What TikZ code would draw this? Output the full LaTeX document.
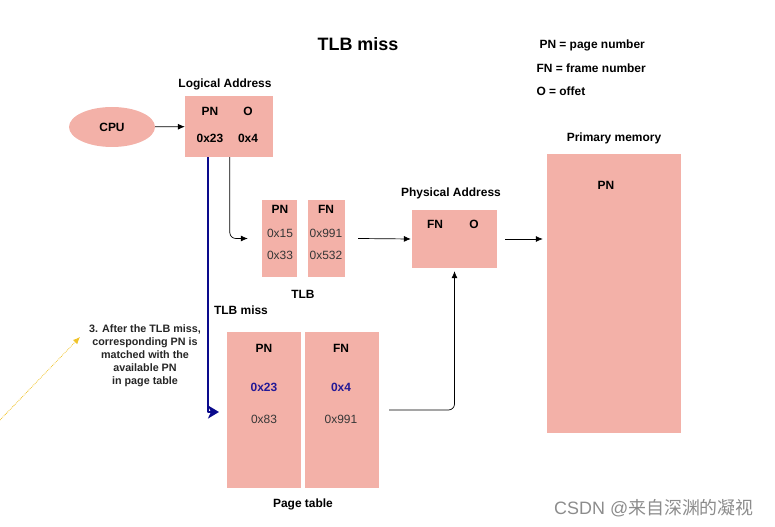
\documentclass[tikz,border=0pt]{standalone}
\usepackage{fontspec}
\setmainfont{Liberation Sans}
\newfontfamily\cjkfont{Noto Sans CJK SC}
\usepackage{tikz}
\usetikzlibrary{positioning,arrows.meta,shapes.geometric}

\definecolor{boxfill}{RGB}{243,177,168}
\definecolor{missblue}{RGB}{10,10,140}
\definecolor{hitblue}{RGB}{35,25,150}
\definecolor{valgray}{RGB}{55,55,55}
\definecolor{notegold}{RGB}{240,195,40}

\tikzset{
  membox/.style={draw=none,fill=boxfill,inner sep=0pt},
  hdr/.style={font=\fontsize{12}{14}\selectfont\bfseries},
  val/.style={font=\fontsize{12}{14}\selectfont,text=valgray},
  hit/.style={font=\fontsize{12}{14}\selectfont\bfseries,text=hitblue},
  link/.style={black,-{Latex[length=7bp,width=6bp]},line width=0.7bp},
}

\begin{document}
\begin{tikzpicture}[>=latex,line join=bevel,]
\useasboundingbox (0bp,0bp) rectangle (775bp,527bp);
%%
\node (title) at (358bp,483bp) [font=\fontsize{18}{20}\selectfont\bfseries] {TLB miss};
  \node (keypn) at (536bp,482bp) [hdr,anchor=west] {PN = page number};
  \node (keyfn) at (533bp,459bp) [hdr,anchor=west] {FN = frame number};
  \node (keyo) at (533bp,436bp) [hdr,anchor=west] {O = offet};
%
  \node (cpu) at (112bp,400bp) [ellipse,membox,minimum width=86bp,minimum height=40bp,hdr] {CPU};
  \node (logical) at (229bp,400.5bp) [membox,minimum width=88bp,minimum height=61bp] {};
  \node (logicallbl) at (225bp,443bp) [hdr] {Logical Address};
  \node (lapn) at (210bp,416bp) [hdr] {PN};
  \node (lao) at (248bp,416bp) [hdr] {O};
  \node (lapnval) at (210bp,389bp) [hdr] {0x23};
  \node (laoval) at (248bp,389bp) [hdr] {0x4};
%
  \node (tlbpn) at (279.5bp,288.5bp) [membox,minimum width=35bp,minimum height=77bp] {};
  \node (tlbfn) at (326.5bp,288.5bp) [membox,minimum width=37bp,minimum height=77bp] {};
  \node (tlbpnhdr) at (280bp,318bp) [hdr] {PN};
  \node (tlbpna) at (280bp,294bp) [val] {0x15};
  \node (tlbpnb) at (280bp,272bp) [val] {0x33};
  \node (tlbfnhdr) at (326bp,318bp) [hdr] {FN};
  \node (tlbfna) at (326bp,294bp) [val] {0x991};
  \node (tlbfnb) at (326bp,272bp) [val] {0x532};
  \node (tlblbl) at (303bp,233bp) [hdr] {TLB};
%
  \node (phys) at (454.5bp,288bp) [membox,minimum width=85bp,minimum height=58bp] {};
  \node (physlbl) at (451bp,334bp) [hdr] {Physical Address};
  \node (physfn) at (435bp,303bp) [hdr] {FN};
  \node (physo) at (474bp,303bp) [hdr] {O};
%
  \node (mem) at (614bp,233.5bp) [membox,minimum width=134bp,minimum height=279bp] {};
  \node (memlbl) at (614bp,389bp) [hdr] {Primary memory};
  \node (mempn) at (606bp,342bp) [hdr] {PN};
%
  \node (ptpn) at (264bp,117bp) [membox,minimum width=74bp,minimum height=156bp] {};
  \node (ptfn) at (342bp,117bp) [membox,minimum width=74bp,minimum height=156bp] {};
  \node (ptpnhdr) at (264bp,179bp) [hdr] {PN};
  \node (ptfnhdr) at (341bp,179bp) [hdr] {FN};
  \node (ptpna) at (264bp,140bp) [hit] {0x23};
  \node (ptfna) at (341bp,140bp) [hit] {0x4};
  \node (ptpnb) at (264bp,108bp) [val] {0x83};
  \node (ptfnb) at (341bp,108bp) [val] {0x991};
  \node (ptlbl) at (303bp,23bp) [hdr] {Page table};
%
  \node (misslbl) at (241bp,217bp) [hdr] {TLB miss};
  \node (note) at (145bp,171bp) [align=center,font=\fontsize{10.8}{13}\selectfont\bfseries,text=black!85] {3. After the TLB miss,\\corresponding PN is\\matched with the\\available PN\\in page table};
  \node (mark) at (654bp,19bp) [font=\fontsize{18}{20}\selectfont,text=black!45] {CSDN @{\cjkfont 来自深渊的凝视}};
%
  \coordinate (missend) at (219bp,115bp);
  \coordinate (notefrom) at (0bp,107bp);
  \coordinate (noteto) at (80bp,190bp);
%
  \draw [link] (cpu) -- (logical);
  \draw [missblue,line width=2bp,-{Stealth[length=11bp,width=13bp,inset=3bp]}] ([xshift=23bp]logical.south west) |- (missend);
  \draw [link,rounded corners=6bp] ([xshift=45bp]logical.south west) |- ([xshift=-14bp]tlbpn.west);
  \draw [link] ([xshift=13bp]tlbfn.east) -- ([xshift=-1bp]phys.west);
  \draw [link] ([xshift=8bp]phys.east) -- ([xshift=-4bp]phys.east -| mem.west);
  \draw [link,rounded corners=6bp] ([xshift=10bp]ptfn.east) -| ([yshift=-3bp]phys.south);
  \draw [notegold,densely dotted,line width=0.8bp,-{Latex[length=7bp,width=6bp]}] (notefrom) -- (noteto);
%
\end{tikzpicture}
\end{document}
